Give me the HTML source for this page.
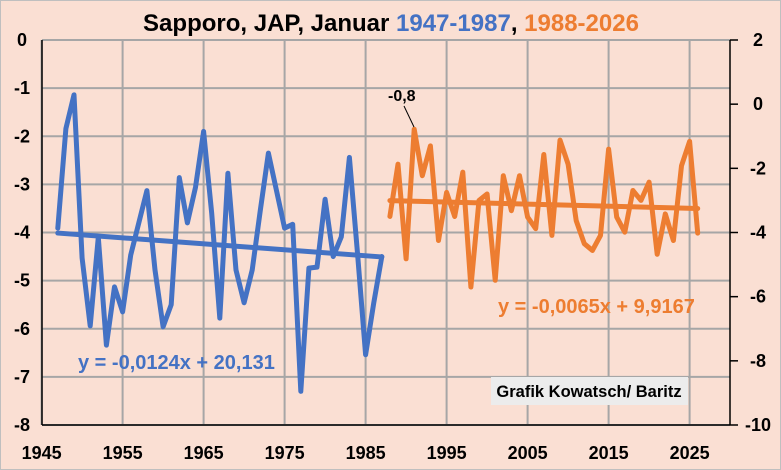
<!DOCTYPE html>
<html><head><meta charset="utf-8"><style>
body{margin:0;background:#fadfd3;}
svg{display:block;font-family:"Liberation Sans",sans-serif;font-weight:bold;}
</style></head><body>
<svg id="chart" width="781" height="470">
<rect x="0.5" y="0.5" width="780" height="469" fill="#fadfd3" stroke="#bfbfbf"/>
<text x="391" y="31" text-anchor="middle" font-size="24"><tspan fill="#000">Sapporo, JAP, Januar </tspan><tspan fill="#4472c4">1947-1987</tspan><tspan fill="#000">, </tspan><tspan fill="#ed7d31">1988-2026</tspan></text>
<g id="grid"></g>
<g id="axes"></g>
<g id="series"></g>
<text x="78" y="369" font-size="20" fill="#4472c4">y = -0,0124x + 20,131</text>
<text x="498" y="313" font-size="20" fill="#ed7d31">y = -0,0065x + 9,9167</text>
<text x="388" y="101" font-size="16" fill="#000">-0,8</text>
<line x1="404" y1="106" x2="414" y2="127" stroke="#000" stroke-width="1"/>
<rect x="491" y="377" width="197" height="28" fill="#ececec"/>
<text x="589" y="397" text-anchor="middle" font-size="16.5" fill="#000">Grafik Kowatsch/ Baritz</text>
</svg>
<script>
const blueYears=[];for(let y=1947;y<=1987;y++)blueYears.push(y);
const blueValues=[-3.91,-1.84,-1.14,-4.53,-5.94,-4.1,-6.34,-5.13,-5.65,-4.47,-3.8,-3.13,-4.78,-5.96,-5.5,-2.86,-3.8,-3.06,-1.9,-3.6,-5.78,-2.77,-4.78,-5.46,-4.78,-3.54,-2.35,-3.13,-3.91,-3.83,-7.3,-4.74,-4.72,-3.31,-4.5,-4.09,-2.44,-4.43,-6.54,-5.47,-4.5];
const orangeYears=[];for(let y=1988;y<=2026;y++)orangeYears.push(y);
const orangeValues=[-3.5,-1.87,-4.82,-0.78,-2.23,-1.3,-4.25,-2.75,-3.5,-2.12,-5.7,-3.0,-2.8,-5.49,-2.23,-3.32,-2.23,-3.52,-3.88,-1.57,-4.09,-1.12,-1.87,-3.63,-4.35,-4.56,-4.09,-1.4,-3.52,-3.99,-2.69,-3.0,-2.43,-4.68,-3.42,-4.25,-1.92,-1.16,-4.02];
const blueTrend=[-0.0124,20.131];
const orangeTrend=[-0.0065,9.9167];
const xTicks=[1945,1955,1965,1975,1985,1995,2005,2015,2025];
const leftTicks=[0,-1,-2,-3,-4,-5,-6,-7,-8];
const rightTicks=[2,0,-2,-4,-6,-8,-10];
const L=42,R=730,T=40,B=425;
const xs=y=>41.6+(y-1945)*8.1;
const yl=v=>T+(0-v)/8*(B-T);
const yr=v=>T+(2-v)/12*(B-T);
const NS="http://www.w3.org/2000/svg";
function mk(tag,attrs,parent,txt){const e=document.createElementNS(NS,tag);for(const k in attrs)e.setAttribute(k,attrs[k]);if(txt!==undefined)e.textContent=txt;document.getElementById(parent).appendChild(e);return e;}
xTicks.forEach(t=>{const e=mk('line',{x1:xs(t),x2:xs(t),y1:T,y2:B,stroke:'#a6a6a6','stroke-width':2},'grid');


const l=mk('text',{x:xs(t),y:B+34,'text-anchor':'middle','font-size':18},'axes',String(t));

});
leftTicks.forEach(t=>{const e=mk('line',{x1:L,x2:R,y1:yl(t),y2:yl(t),stroke:'#a6a6a6','stroke-width':2},'grid');


const l=mk('text',{x:22,y:yl(t)+6,'text-anchor':'middle','font-size':18},'axes',String(t));

});
rightTicks.forEach(t=>{const e=mk('line',{x1:R,x2:R+8,y1:yr(t),y2:yr(t),stroke:'#000','stroke-width':1.5},'axes');


const l=mk('text',{x:758,y:yr(t)+6,'text-anchor':'middle','font-size':18},'axes',String(t));

});
let a=mk('line',{x1:L,x2:L,y1:T,y2:B,stroke:'#000','stroke-width':1.5},'axes');


a=mk('line',{x1:R,x2:R,y1:T,y2:B,stroke:'#000','stroke-width':1.5},'axes');


a=mk('line',{x1:L,x2:R,y1:B,y2:B,stroke:'#000','stroke-width':1.5},'axes');


function poly(years,vals,yf,color,name){const p=mk('polyline',{points:years.map((y,i)=>xs(y)+','+yf(vals[i])).join(' '),fill:'none',stroke:color,'stroke-width':5,'stroke-linejoin':'round','stroke-linecap':'round'},'series');

}
poly(blueYears,blueValues,yl,'#4472c4','blue-series-line');
poly(orangeYears,orangeValues,yr,'#ed7d31','orange-series-line');
function trend(years,c,yf,color,name){const y0=years[0],y1=years[years.length-1];
const t=mk('line',{x1:xs(y0),y1:yf(c[0]*y0+c[1]),x2:xs(y1),y2:yf(c[0]*y1+c[1]),stroke:color,'stroke-width':5,'stroke-linecap':'round'},'series');

}
trend(blueYears,blueTrend,yl,'#4472c4','blue-trend-line');
trend(orangeYears,orangeTrend,yr,'#ed7d31','orange-trend-line');
</script>
</body></html>
